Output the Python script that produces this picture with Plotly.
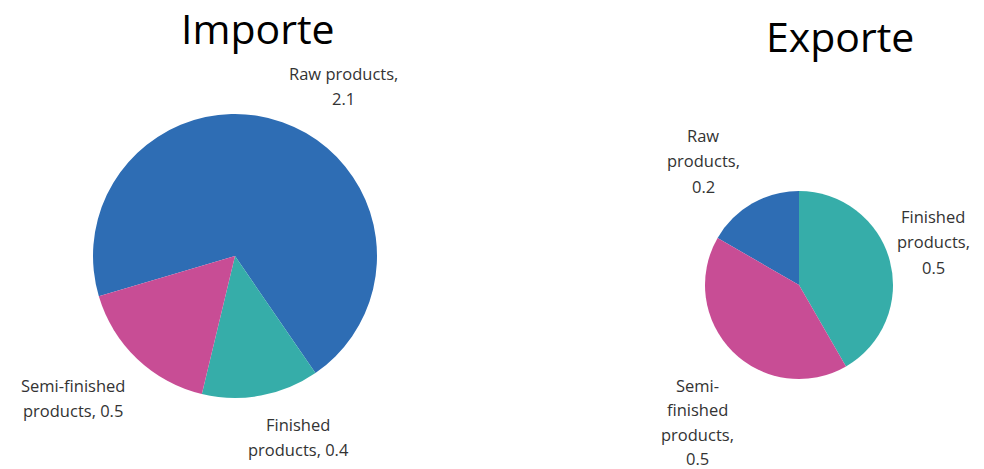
import textwrap
import plotly.graph_objects as go

# Trade volumes by processing stage (slices listed in clockwise drawing order)
categories = ["Raw products", "Finished products", "Semi-finished products"]
import_values = [2.1, 0.4, 0.5]
export_values = [0.2, 0.5, 0.5]
slice_colors = ["#2E6DB4", "#36ADA9", "#C84D95"]

W, H = 984, 469


def px_x(x):
    return x / W


def px_y(y):
    return 1 - y / H


def domain(cx, cy, r):
    return dict(x=[px_x(cx - r), px_x(cx + r)], y=[px_y(cy + r), px_y(cy - r)])


fig = go.Figure()
fig.add_trace(go.Pie(
    labels=categories, values=import_values, sort=False,
    direction="clockwise", rotation=-106.5,
    marker=dict(colors=slice_colors, line=dict(width=0)),
    textinfo="none", hoverinfo="label+value",
    domain=domain(235, 256, 142), showlegend=False,
))
fig.add_trace(go.Pie(
    labels=categories, values=export_values, sort=False,
    direction="clockwise", rotation=-60,
    marker=dict(colors=slice_colors, line=dict(width=0)),
    textinfo="none", hoverinfo="label+value",
    domain=domain(799, 285, 94), showlegend=False,
))

annotations = []
label_font = dict(family="Open Sans", size=16.5, color="#333333")


def add_label(cat, val, width, cx, cy_first, step=25.5):
    lines = textwrap.wrap(f"{cat}, {val}", width=width)
    for i, line in enumerate(lines):
        annotations.append(dict(
            text=line, x=px_x(cx), y=px_y(cy_first + i * step),
            xref="paper", yref="paper", xanchor="center", yanchor="middle",
            showarrow=False, font=label_font,
        ))


# Import labels: (category index, centre x, first line y)
add_label(categories[0], import_values[0], 14, 343, 73)
add_label(categories[2], import_values[2], 14, 73, 385)
add_label(categories[1], import_values[1], 14, 298, 424)

# Export labels
add_label(categories[0], export_values[0], 9, 703, 135)
add_label(categories[1], export_values[1], 9, 933, 216)
add_label(categories[2], export_values[2], 9, 697, 385, step=24.5)

title_font = dict(family="Open Sans", size=41, color="#000000")
annotations.append(dict(text="Importe", x=px_x(258), y=px_y(28), xref="paper", yref="paper",
                        xanchor="center", yanchor="middle", showarrow=False, font=title_font))
annotations.append(dict(text="Exporte", x=px_x(840), y=px_y(36), xref="paper", yref="paper",
                        xanchor="center", yanchor="middle", showarrow=False, font=title_font))

fig.update_layout(
    width=W, height=H,
    margin=dict(l=0, r=0, t=0, b=0),
    paper_bgcolor="white", plot_bgcolor="white",
    annotations=annotations,
)

fig.write_html("out.html")
